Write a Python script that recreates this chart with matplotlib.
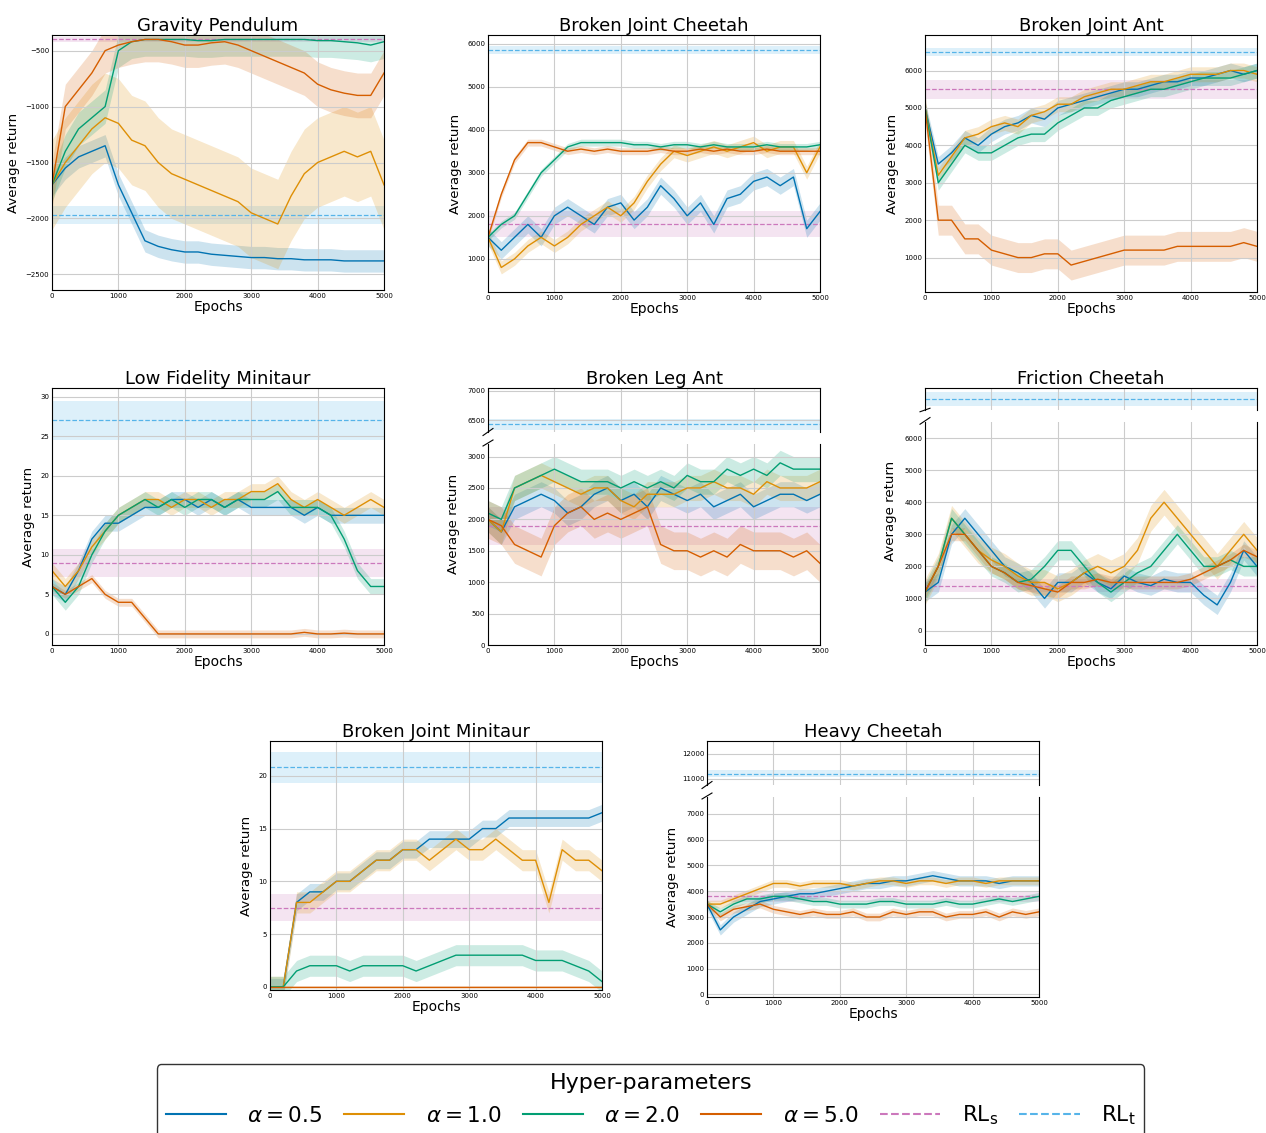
import numpy as np
import matplotlib.pyplot as plt
from matplotlib.lines import Line2D

epochs = np.arange(0, 5001, 200)

# series per panel: blue a=0.5, orange a=1.0, green a=2.0, red a=5.0
grav_b = [-1700, -1550, -1450, -1400, -1350, -1700, -1950, -2200, -2250, -2280, -2300, -2300, -2320, -2330, -2340, -2350, -2350, -2360, -2360, -2370, -2370, -2370, -2380, -2380, -2380, -2380]
grav_o = [-1700, -1500, -1350, -1200, -1100, -1150, -1300, -1350, -1500, -1600, -1650, -1700, -1750, -1800, -1850, -1950, -2000, -2050, -1800, -1600, -1500, -1450, -1400, -1450, -1400, -1700]
grav_g = [-1700, -1400, -1200, -1100, -1000, -500, -420, -400, -400, -400, -400, -410, -410, -400, -400, -400, -400, -400, -400, -400, -410, -410, -420, -430, -450, -420]
grav_r = [-1700, -1000, -850, -700, -500, -450, -420, -400, -400, -420, -450, -450, -430, -420, -450, -500, -550, -600, -650, -700, -800, -850, -880, -900, -900, -700]

bjc_b = [1500, 1200, 1500, 1800, 1500, 2000, 2200, 2000, 1800, 2200, 2300, 1900, 2200, 2700, 2400, 2000, 2300, 1800, 2400, 2500, 2800, 2900, 2700, 2900, 1700, 2100]
bjc_o = [1500, 800, 1000, 1300, 1500, 1300, 1500, 1800, 2000, 2200, 2000, 2300, 2800, 3200, 3500, 3400, 3500, 3600, 3500, 3600, 3700, 3500, 3600, 3600, 3000, 3600]
bjc_g = [1500, 1800, 2000, 2500, 3000, 3300, 3600, 3700, 3700, 3700, 3700, 3650, 3650, 3600, 3650, 3650, 3600, 3650, 3600, 3600, 3600, 3650, 3600, 3600, 3600, 3650]
bjc_r = [1500, 2500, 3300, 3700, 3700, 3600, 3500, 3550, 3500, 3550, 3500, 3500, 3500, 3550, 3500, 3500, 3550, 3500, 3550, 3500, 3500, 3550, 3500, 3500, 3500, 3500]

bja_b = [5000, 3500, 3800, 4200, 4000, 4300, 4500, 4600, 4800, 4700, 5000, 5100, 5200, 5300, 5400, 5500, 5500, 5600, 5700, 5700, 5800, 5800, 5900, 6000, 5900, 6000]
bja_o = [5000, 3200, 3700, 4200, 4300, 4500, 4600, 4500, 4800, 4900, 5100, 5100, 5300, 5400, 5500, 5500, 5600, 5700, 5700, 5800, 5900, 5900, 5900, 6000, 6000, 5900]
bja_g = [5000, 3000, 3500, 4000, 3800, 3800, 4000, 4200, 4300, 4300, 4600, 4800, 5000, 5000, 5200, 5300, 5400, 5500, 5500, 5600, 5700, 5800, 5800, 5800, 5900, 6000]
bja_r = [5000, 2000, 2000, 1500, 1500, 1200, 1100, 1000, 1000, 1100, 1100, 800, 900, 1000, 1100, 1200, 1200, 1200, 1200, 1300, 1300, 1300, 1300, 1300, 1400, 1300]

lfm_b = [6, 5, 8, 12, 14, 14, 15, 16, 16, 17, 17, 16, 17, 16, 17, 16, 16, 16, 16, 15, 16, 15, 15, 15, 15, 15]
lfm_o = [8, 6, 8, 11, 13, 15, 16, 17, 17, 16, 17, 17, 16, 17, 17, 18, 18, 19, 17, 16, 17, 16, 15, 16, 17, 16]
lfm_g = [6, 4, 6, 10, 13, 15, 16, 17, 16, 17, 16, 17, 17, 16, 17, 17, 17, 18, 16, 16, 16, 15, 12, 8, 6, 6]
lfm_r = [6, 5, 6, 7, 5, 4, 4, 2, 0, 0, 0, 0, 0, 0, 0, 0, 0, 0, 0, 0.2, 0, 0, 0.1, 0, 0, 0]

bla_b = [2000, 1800, 2200, 2300, 2400, 2300, 2100, 2200, 2400, 2500, 2300, 2400, 2200, 2500, 2400, 2300, 2400, 2200, 2300, 2400, 2200, 2300, 2400, 2400, 2300, 2400]
bla_o = [2000, 1800, 2500, 2600, 2700, 2600, 2500, 2400, 2500, 2500, 2300, 2200, 2400, 2400, 2400, 2500, 2500, 2600, 2500, 2500, 2400, 2600, 2500, 2500, 2500, 2600]
bla_g = [2100, 2000, 2500, 2600, 2700, 2800, 2700, 2600, 2600, 2600, 2500, 2600, 2500, 2600, 2500, 2700, 2600, 2600, 2800, 2700, 2800, 2700, 2900, 2800, 2800, 2800]
bla_r = [2000, 1900, 1600, 1500, 1400, 1900, 2100, 2200, 2000, 2100, 2000, 2100, 2200, 1600, 1500, 1500, 1400, 1500, 1400, 1600, 1500, 1500, 1500, 1400, 1500, 1300]

fc_b = [1200, 1500, 3000, 3500, 3000, 2500, 2000, 1800, 1500, 1000, 1500, 1500, 1800, 1500, 1300, 1700, 1500, 1400, 1600, 1500, 1500, 1100, 800, 1500, 2500, 2000]
fc_o = [1200, 2000, 3500, 3000, 2500, 2200, 2000, 1700, 1500, 1500, 1300, 1500, 1800, 2000, 1800, 2000, 2500, 3500, 4000, 3500, 3000, 2500, 2000, 2500, 3000, 2500]
fc_g = [1200, 2000, 3500, 3000, 2500, 2000, 1800, 1500, 1600, 2000, 2500, 2500, 2000, 1500, 1200, 1500, 1800, 2000, 2500, 3000, 2500, 2000, 2000, 2200, 2000, 2000]
fc_r = [1200, 2000, 3000, 3000, 2500, 2000, 1800, 1500, 1400, 1300, 1200, 1500, 1500, 1600, 1500, 1500, 1500, 1500, 1500, 1500, 1600, 1800, 2000, 2200, 2500, 2300]

bjm_b = [0, 0, 8, 9, 9, 10, 10, 11, 12, 12, 13, 13, 14, 14, 14, 14, 15, 15, 16, 16, 16, 16, 16, 16, 16, 16.5]
bjm_o = [0, 0, 8, 8, 9, 10, 10, 11, 12, 12, 13, 13, 12, 13, 14, 13, 13, 14, 13, 12, 12, 8, 13, 12, 12, 11]
bjm_g = [0, 0, 1.5, 2, 2, 2, 1.5, 2, 2, 2, 2, 1.5, 2, 2.5, 3, 3, 3, 3, 3, 3, 2.5, 2.5, 2.5, 2, 1.5, 0.5]
bjm_r = [0] * 26

hc_b = [3500, 2500, 3000, 3300, 3600, 3700, 3800, 3900, 3900, 4000, 4100, 4200, 4300, 4300, 4400, 4400, 4500, 4600, 4500, 4400, 4400, 4400, 4300, 4400, 4400, 4400]
hc_o = [3500, 3500, 3700, 3900, 4100, 4300, 4300, 4200, 4300, 4300, 4300, 4200, 4300, 4400, 4400, 4300, 4400, 4400, 4300, 4400, 4400, 4300, 4400, 4400, 4400, 4400]
hc_g = [3500, 3200, 3500, 3700, 3700, 3800, 3800, 3700, 3600, 3600, 3500, 3500, 3500, 3600, 3600, 3500, 3500, 3500, 3600, 3500, 3500, 3600, 3700, 3600, 3700, 3800]
hc_r = [3500, 3000, 3300, 3400, 3500, 3300, 3200, 3100, 3200, 3100, 3100, 3200, 3000, 3000, 3200, 3100, 3200, 3200, 3000, 3100, 3100, 3200, 3000, 3200, 3100, 3200]

# band half widths per series (blue, orange, green, red)
sd = {
    "grav": [100, 400, 150, 200], "bjc": [200, 150, 80, 80], "bja": [200, 200, 200, 400],
    "lfm": [1, 1, 1, 0.5], "bla": [200, 200, 200, 300], "fc": [300, 400, 300, 200],
    "bjm": [0.8, 1, 1, 0.1], "hc": [200, 150, 150, 150],
}
rl_s = {"grav": (-400, 20), "bjc": (1800, 300), "bja": (5500, 250), "lfm": (9, 1.8),
        "bla": (1900, 300), "fc": (1400, 200), "bjm": (7.5, 1.3), "hc": (3800, 200)}
rl_t = {"grav": (-1970, 80), "bjc": (5850, 100), "bja": (6500, 100), "lfm": (27, 2.5),
        "bla": (6430, 100), "fc": (7100, 150), "bjm": (20.8, 1.5), "hc": (11200, 150)}

C = ["#0173b2", "#de8f05", "#029e73", "#d55e00"]
PINK, LBLUE = "#cc78bc", "#56b4e9"

W, H = 1266, 1133
fig = plt.figure(figsize=(W / 100, H / 100), dpi=100)


def ax_px(x0, y0, x1, y1):
    return fig.add_axes([x0 / W, 1 - y1 / H, (x1 - x0) / W, (y1 - y0) / H])


def style(ax):
    ax.set_xlim(0, 5000)
    ax.grid(True, color="#cccccc", lw=0.8)
    ax.tick_params(labelsize=5, length=0, pad=2)
    for s in ax.spines.values():
        s.set_color("black")
        s.set_linewidth(0.8)


def draw(ax, key, series):
    for (m, s), col in ((rl_s[key], PINK), (rl_t[key], LBLUE)):
        ax.axhspan(m - s, m + s, color=col, alpha=0.2, lw=0)
        ax.axhline(m, color=col, ls="--", lw=0.9)
    for y, w, col in zip(series, sd[key], C):
        y = np.array(y, float)
        ax.fill_between(epochs, y - w, y + w, color=col, alpha=0.2, lw=0)
        ax.plot(epochs, y, color=col, lw=1)


def panel(box, key, series, title, ylim, yticks=None, broken=None):
    x0, y0, x1, y1 = box
    if broken is None:
        ax = ax_px(x0, y0, x1, y1)
        top = ax
    else:
        ysplit, ylim_top, top_ticks = broken
        top = ax_px(x0, y0, x1, ysplit)
        ax = ax_px(x0, ysplit + 12, x1, y1)
        draw(top, key, series)
        style(top)
        top.set_ylim(*ylim_top)
        top.set_yticks(top_ticks)
        top.set_xticklabels([])
        top.spines["bottom"].set_visible(False)
        ax.spines["top"].set_visible(False)
        kw = dict(color="k", clip_on=False, lw=0.8)
        top.plot([-0.015, 0.015], [-0.08, 0.08], transform=top.transAxes, **kw)
        ax.plot([-0.015, 0.015], [0.99, 1.02], transform=ax.transAxes, **kw)
    draw(ax, key, series)
    style(ax)
    ax.set_ylim(*ylim)
    if yticks is not None:
        ax.set_yticks(yticks)
    ax.set_xticks(range(0, 5001, 1000))
    ax.set_xlabel("Epochs", fontsize=10, labelpad=1)
    ax.set_ylabel("Average return", fontsize=9.5)
    if broken is not None:
        ax.yaxis.set_label_coords(-0.085, 0.6)
    top.set_title(title, fontsize=13, pad=3)


panel((52, 35, 384, 290), "grav", [grav_b, grav_o, grav_g, grav_r], "Gravity Pendulum",
      (-2640, -360), [-2500, -2000, -1500, -1000, -500])
panel((488, 35, 820, 292), "bjc", [bjc_b, bjc_o, bjc_g, bjc_r], "Broken Joint Cheetah",
      (230, 6200), range(1000, 6001, 1000))
panel((925, 35, 1257, 292), "bja", [bja_b, bja_o, bja_g, bja_r], "Broken Joint Ant",
      (80, 6950), range(1000, 6001, 1000))
panel((52, 388, 384, 645), "lfm", [lfm_b, lfm_o, lfm_g, lfm_r], "Low Fidelity Minitaur",
      (-1.4, 31.1), range(0, 31, 5))
panel((488, 388, 820, 645), "bla", [bla_b, bla_o, bla_g, bla_r], "Broken Leg Ant",
      (0, 3200), range(0, 3001, 500), broken=(432, (6300, 7050), [6500, 7000]))
panel((925, 388, 1257, 645), "fc", [fc_b, fc_o, fc_g, fc_r], "Friction Cheetah",
      (-450, 6500), range(0, 6001, 1000), broken=(410, (6850, 7350), []))
panel((270, 741, 602, 990), "bjm", [bjm_b, bjm_o, bjm_g, bjm_r], "Broken Joint Minitaur",
      (-0.3, 23.3), range(0, 21, 5))
panel((707, 741, 1039, 997), "hc", [hc_b, hc_o, hc_g, hc_r], "Heavy Cheetah",
      (-100, 7650), range(0, 7001, 1000), broken=(785, (10750, 12500), [11000, 12000]))

handles = [Line2D([], [], color=c, lw=1.5) for c in C]
handles += [Line2D([], [], color=PINK, ls="--", lw=1.5), Line2D([], [], color=LBLUE, ls="--", lw=1.5)]
labels = [r"$\alpha = 0.5$", r"$\alpha = 1.0$", r"$\alpha = 2.0$", r"$\alpha = 5.0$",
          r"RL$_\mathrm{s}$", r"RL$_\mathrm{t}$"]
leg = fig.legend(handles, labels, title="Hyper-parameters", ncol=6, fontsize=15.5,
                 title_fontsize=16, loc="lower center", bbox_to_anchor=(0.514, -0.012),
                 frameon=True, fancybox=True, edgecolor="black", handlelength=2.8,
                 columnspacing=1.0, handletextpad=1.0, borderpad=0.4)
leg.get_frame().set_linewidth(1)

fig.savefig("out.png", dpi=100)
